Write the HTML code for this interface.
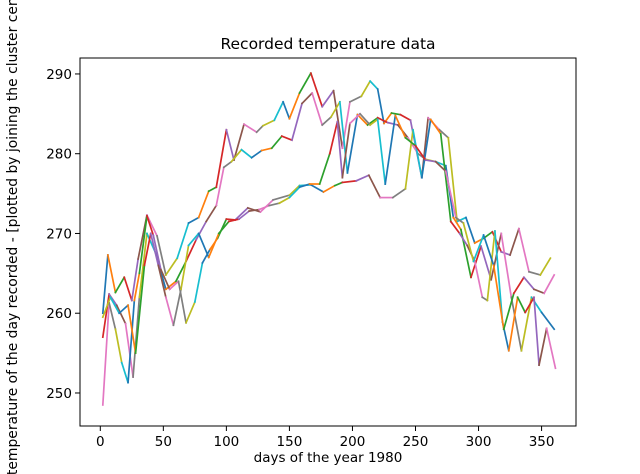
<!DOCTYPE html>
<html><head><meta charset="utf-8"><style>
html,body{margin:0;padding:0;background:#fff;width:640px;height:474px;overflow:hidden}
svg{display:block;font-family:"DejaVu Sans","Liberation Sans",sans-serif}
</style></head><body>
<svg id="chart" width="640" height="474" viewBox="0 0 640 474"></svg>
<script>
const s1Days=[2,6,12,19,25,30,37,45,52,61,70,78,86,92,100,106,114,124,129,138,145,150,158,167,176,185,192,198,207,214,220,225,231,238,246,255,260,269,276,283,290,297,304,311,318,325,332,340,349,357];
const s1Vals=[260,267.3,262.6,264.5,261.6,266.8,272.3,269.7,264.8,266.9,271.3,272,275.3,275.8,283,279.2,283.7,282.7,283.5,284.2,286.5,284.4,287.6,290.1,285.9,287.9,280.7,286.5,287.2,289.1,288.1,283.8,285.1,284.9,284.2,277,284.5,283,282,271.5,272,268.8,269.4,270.2,267.7,267.3,270.6,265.2,264.8,266.9];
const s2Days=[2,7,13,20,26,31,37,44,52,60,68,76,84,92,98,104,112,120,128,136,144,152,160,168,176,183,190,196,204,212,220,228,236,244,252,258,266,274,280,286,294,302,310,318,326,334,342,350,360];
const s2Vals=[257,262.4,261,258.7,252,262,270,267.5,263,264,266.5,269.2,271.5,273.5,278.3,279,280.5,279.5,280.4,280.7,282.2,281.7,286.3,287.6,283.6,284.6,286.5,277.6,284.9,283.6,284.5,283.9,283.6,282,280,279.3,279,278.5,272,270.5,264.5,268.4,264.2,270,262,255.3,262,260.1,258];
const s3Days=[2,7,12,17,22,27,31,37,42,48,55,62,68,75,81,87,93,100,107,117,127,137,150,158,167,177,186,192,203,213,222,232,242,248,255,262,270,278,285,291,297,303,307,313,319,324,331,337,344,348,354,361];
const s3Vals=[248.5,261.3,258,253.8,251.3,261.6,265,272.2,269.8,265.5,263,264,258.8,261.4,266.3,268,269.4,271.8,271.7,273.2,272.7,274.2,274.8,276,276.1,275.2,276,276.4,276.6,277.3,274.5,274.5,275.6,283,277,284.3,282.5,271.5,270,268.5,266.5,262,261.6,270.3,258.9,255.3,262,260.1,262,253.5,258.1,253.1];
const s4Days=[2,8,15,22,28,35,40,46,52,58,64,70,78,86,94,102,110,118,126,134,142,150,158,166,174,182,188,192,198,206,214,220,226,234,242,250,258,266,274,282,288,296,304,312,320,328,336,344,352,360];
const s4Vals=[259.5,262,260,261,255,266,270,266,262,258.5,263,268.5,270,267,270,271.5,271.8,272.8,273,273.5,273.8,274.5,275.8,276.2,276.2,280,284,277,283.8,285,283.6,284.3,276.2,284.8,282,281,279.2,279,277.8,272,271.3,266.5,269.8,266,258,262.5,264.5,263,262.5,264.8];
const xTicks=[0,50,100,150,200,250,300,350];
const yTicks=[250,260,270,280,290];
const palette=['#1f77b4','#ff7f0e','#2ca02c','#d62728','#9467bd','#8c564b','#e377c2','#7f7f7f','#bcbd22','#17becf'];

const L=80,T=58,R=576,B=426;
const xMin=-16.1,xMax=377.3,yMin=245.86,yMax=292.0;
function xs(d){return L+(d-xMin)/(xMax-xMin)*(R-L);}
function ys(v){return B-(v-yMin)/(yMax-yMin)*(B-T);}
const NS='http://www.w3.org/2000/svg';
const svg=document.getElementById('chart');
function mk(tag,attrs,parent){const e=document.createElementNS(NS,tag);for(const k in attrs)e.setAttribute(k,attrs[k]);(parent||svg).appendChild(e);return e;}

const clip=mk('clipPath',{id:'plotclip'});
mk('rect',{x:L,y:T,width:R-L,height:B-T},clip);

const plot=mk('g',{'clip-path':'url(#plotclip)'});


const series=[[s1Days,s1Vals,0],[s2Days,s2Vals,3],[s3Days,s3Vals,6],[s4Days,s4Vals,8]];
series.forEach(function(s,si){
  const g=mk('g',{},plot);
  
  
  for(let i=0;i<s[0].length-1;i++){
    const ln=mk('line',{x1:xs(s[0][i]),y1:ys(s[1][i]),x2:xs(s[0][i+1]),y2:ys(s[1][i+1]),stroke:palette[(i+s[2])%10],'stroke-width':1.7,'stroke-linecap':'square'},g);
    
    
  }
});

const frame=mk('rect',{x:L,y:T,width:R-L,height:B-T,fill:'none',stroke:'#000','stroke-width':1});



xTicks.forEach(function(t){
  const x=xs(t);
  const tk=mk('line',{x1:x,y1:B,x2:x,y2:B+5,stroke:'#000','stroke-width':1});
  
  
  const tx=mk('text',{x:x,y:B+20,'font-size':13.5,'text-anchor':'middle',fill:'#000'});
  tx.textContent=t;
  
  
});
yTicks.forEach(function(t){
  const y=ys(t);
  const tk=mk('line',{x1:L-5,y1:y,x2:L,y2:y,stroke:'#000','stroke-width':1});
  
  
  const tx=mk('text',{x:L-8,y:y+5,'font-size':13.5,'text-anchor':'end',fill:'#000'});
  tx.textContent=t;
  
  
});

const title=mk('text',{x:(L+R)/2,y:T-9,'font-size':15.5,'text-anchor':'middle',fill:'#000'});
title.textContent='Recorded temperature data';



const xl=mk('text',{x:(L+R)/2,y:462,'font-size':13.5,'text-anchor':'middle',fill:'#000'});
xl.textContent='days of the year 1980';



const yl=mk('text',{x:0,y:0,'font-size':13.9,'text-anchor':'middle',fill:'#000',transform:'translate(17,'+((T+B)/2-22)+') rotate(-90)'});
yl.textContent='temperature of the day recorded - [plotted by joining the cluster centers]';


</script>
</body></html>
